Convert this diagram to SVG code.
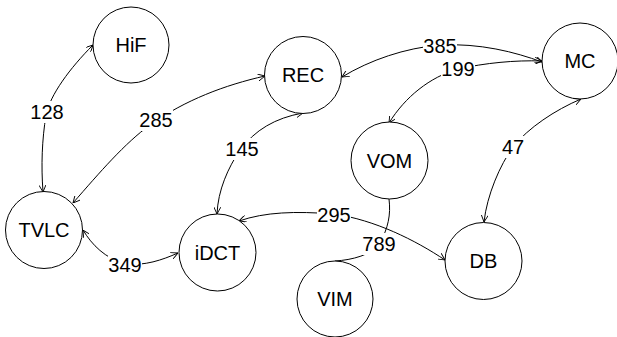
<svg xmlns="http://www.w3.org/2000/svg" width="617" height="337" viewBox="0 0 617 337">
<style>
  .node circle { fill: #fff; stroke: #000; stroke-width: 1; }
  text { font-family: "Liberation Sans", Arial, sans-serif; font-size: 20px; fill: #000; text-anchor: middle; }
  .edge { fill: none; stroke: #000; stroke-width: 1; }
  .arr { marker-start: url(#ah); marker-end: url(#ah); }
  .lbl rect { fill: #fff; }
</style>
<defs>
  <marker id="ah" viewBox="0 0 10 10" refX="10" refY="5" markerWidth="7" markerHeight="7" markerUnits="userSpaceOnUse" orient="auto-start-reverse">
    <path d="M0,0 L10,5 L0,10" fill="none" stroke="#000" stroke-width="1.3"/>
  </marker>
</defs>
<rect width="617" height="337" fill="#fff"/>
<g id="connectors">
  <path class="edge arr" d="M93,45 C70,68 50,95 46,115 C42,140 41,165 43,192"/>
  <path class="edge arr" d="M73,203 C100,172 125,143 150,125 C185,100 225,85 265,76"/>
  <path class="edge arr" d="M217,214 C218,190 228,168 240,150 C255,130 275,118 303,113"/>
  <path class="edge arr" d="M342,77 C370,60 405,48 440,45 C480,43 515,52 542,62"/>
  <path class="edge arr" d="M542,61 C515,60 485,63 458,69 C430,77 405,97 389,123"/>
  <path class="edge arr" d="M581,99 C555,110 528,128 513,147 C500,165 487,195 484,222"/>
  <path class="edge arr" d="M239,221 C265,212 295,211 334,214 C375,220 415,240 445,260"/>
  <path class="edge" d="M389,199 C391,215 388,228 380,243 C372,255 352,260 335,261"/>
  <path class="edge arr" d="M83,230 C92,245 105,258 125,264 C145,266 162,260 178,253"/>
  <g class="lbl">
    <rect x="30" y="101" width="33" height="22"/><text x="47" y="119">128</text>
    <rect x="139" y="109" width="34" height="22"/><text x="156" y="127">285</text>
    <rect x="225" y="138" width="34" height="22"/><text x="242" y="156">145</text>
    <rect x="423" y="35" width="34" height="22"/><text x="440" y="53">385</text>
    <rect x="441" y="58" width="34" height="22"/><text x="458" y="76">199</text>
    <rect x="502" y="136" width="22" height="22"/><text x="513" y="154">47</text>
    <rect x="317" y="204" width="34" height="22"/><text x="334" y="222">295</text>
    <rect x="362" y="233" width="34" height="22"/><text x="379" y="251">789</text>
    <rect x="108" y="254" width="34" height="22"/><text x="125" y="272">349</text>
  </g>
</g>
<g id="HiF" class="node"><circle cx="131" cy="45" r="38"/><text x="131" y="52">HiF</text></g>
<g id="REC" class="node"><circle cx="303" cy="75" r="38.5"/><text x="303" y="82">REC</text></g>
<g id="MC" class="node"><circle cx="580" cy="61" r="38"/><text x="580" y="68">MC</text></g>
<g id="VOM" class="node"><circle cx="389.5" cy="160.5" r="38.5"/><text x="389.5" y="167.5">VOM</text></g>
<g id="TVLC" class="node"><circle cx="44" cy="230" r="38.5"/><text x="44" y="237">TVLC</text></g>
<g id="iDCT" class="node"><circle cx="217.5" cy="252.5" r="38.5"/><text x="217.5" y="259.5">iDCT</text></g>
<g id="DB" class="node"><circle cx="483.5" cy="261" r="38.5"/><text x="483.5" y="268">DB</text></g>
<g id="VIM" class="node"><circle cx="335" cy="299" r="38"/><text x="335" y="306">VIM</text></g>
</svg>
